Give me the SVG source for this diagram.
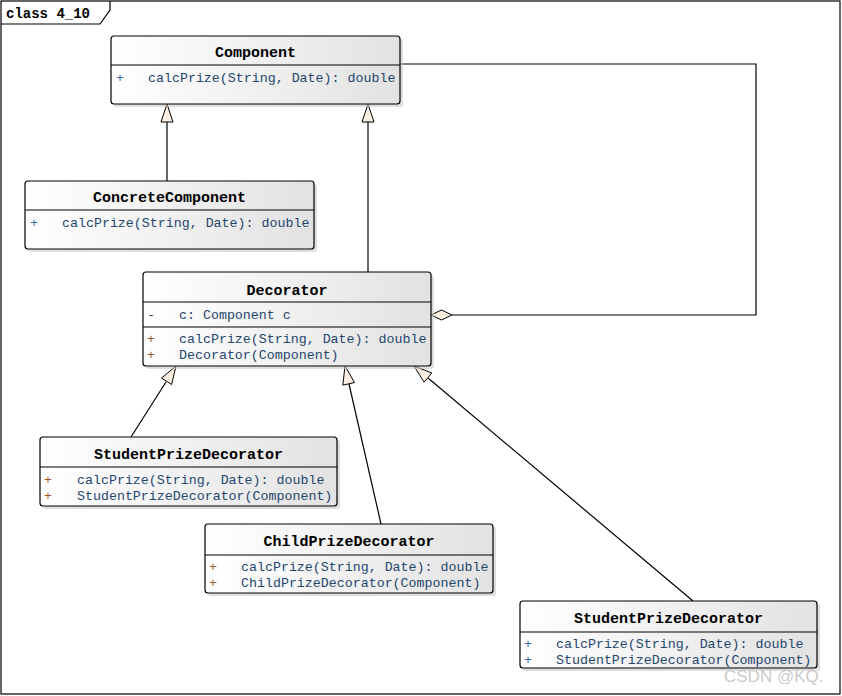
<svg xmlns="http://www.w3.org/2000/svg" width="842" height="696" viewBox="0 0 842 696">
<defs>
<linearGradient id="g" x1="0" y1="0" x2="1" y2="0">
<stop offset="0" stop-color="#ffffff"/>
<stop offset="1" stop-color="#e2e2e2"/>
</linearGradient>
<style>
.box{fill:url(#g);stroke:#000;stroke-width:1.2}
.sh{fill:#c8c8c8;opacity:0.6}
.sep{stroke:#000;stroke-width:1.2}
.title{font-family:"Liberation Mono",monospace;font-weight:bold;font-size:15px;fill:#000;text-anchor:middle}
.m{font-family:"Liberation Mono",monospace;font-size:13.3px;fill:#24466e}
.pb{fill:#3a6cb0}
.pr{fill:#9a5a2a}
.ln{stroke:#000;stroke-width:1.2;fill:none}
.tri{fill:#fcefe2;stroke:#000;stroke-width:1}
</style>
</defs>
<rect x="1" y="1" width="839" height="693" fill="#fff" stroke="#000" stroke-width="1.2"/>
<path d="M1,24 H100 L110,10 V1" fill="none" stroke="#000" stroke-width="1.2"/>
<text x="6" y="18" font-family="Liberation Mono,monospace" font-weight="bold" font-size="14" fill="#000">class 4_10</text>

<g id="connectors">
<line class="ln" x1="167" y1="181" x2="167" y2="122"/>
<polygon class="tri" points="167,104 161,122 173,122"/>
<line class="ln" x1="368" y1="272" x2="368" y2="122"/>
<polygon class="tri" points="368,104 362,122 374,122"/>
<polyline class="ln" points="400,64 756,64 756,315 452,315"/>
<polygon class="tri" points="431,315 441.5,310 452,315 441.5,320"/>
<line class="ln" x1="131" y1="437" x2="166" y2="382"/>
<polygon class="tri" points="176,366 171.6,384.5 161.5,378.1"/>
<line class="ln" x1="381" y1="524" x2="349" y2="384"/>
<polygon class="tri" points="345,366 354.5,382.5 342.8,385.2"/>
<line class="ln" x1="693" y1="601" x2="428" y2="378"/>
<polygon class="tri" points="414,366 431.8,373 424.1,382.2"/>
</g>

<g id="Component">
<rect class="sh" x="114" y="39" width="289" height="68" rx="3"/>
<rect class="box" x="111" y="36" width="289" height="68" rx="3"/>
<line class="sep" x1="111" y1="65" x2="400" y2="65"/>
<text class="title" x="255.5" y="57">Component</text>
<text class="m pb" x="116" y="82">+</text>
<text class="m" x="148" y="82">calcPrize(String, Date): double</text>
</g>

<g id="ConcreteComponent">
<rect class="sh" x="28" y="184" width="289" height="68" rx="3"/>
<rect class="box" x="25" y="181" width="289" height="68" rx="3"/>
<line class="sep" x1="25" y1="210" x2="314" y2="210"/>
<text class="title" x="169.5" y="202">ConcreteComponent</text>
<text class="m pb" x="30" y="227">+</text>
<text class="m" x="62" y="227">calcPrize(String, Date): double</text>
</g>

<g id="Decorator">
<rect class="sh" x="146" y="275" width="288" height="94" rx="3"/>
<rect class="box" x="143" y="272" width="288" height="94" rx="3"/>
<line class="sep" x1="143" y1="302" x2="431" y2="302"/>
<line class="sep" x1="143" y1="327" x2="431" y2="327"/>
<text class="title" x="287" y="295">Decorator</text>
<text class="m" x="147" y="319">-</text>
<text class="m" x="179" y="319">c: Component c</text>
<text class="m pr" x="147" y="343">+</text>
<text class="m" x="179" y="343">calcPrize(String, Date): double</text>
<text class="m pr" x="147" y="359">+</text>
<text class="m" x="179" y="359">Decorator(Component)</text>
</g>

<g id="StudentPrizeDecorator1">
<rect class="sh" x="43" y="440" width="297" height="69" rx="3"/>
<rect class="box" x="40" y="437" width="297" height="69" rx="3"/>
<line class="sep" x1="40" y1="467" x2="337" y2="467"/>
<text class="title" x="188.5" y="459">StudentPrizeDecorator</text>
<text class="m pr" x="44" y="484">+</text>
<text class="m" x="77" y="484">calcPrize(String, Date): double</text>
<text class="m pr" x="44" y="500">+</text>
<text class="m" x="77" y="500">StudentPrizeDecorator(Component)</text>
</g>

<g id="ChildPrizeDecorator">
<rect class="sh" x="208" y="527" width="288" height="69" rx="3"/>
<rect class="box" x="205" y="524" width="288" height="69" rx="3"/>
<line class="sep" x1="205" y1="555" x2="493" y2="555"/>
<text class="title" x="349" y="546">ChildPrizeDecorator</text>
<text class="m pr" x="209" y="571">+</text>
<text class="m" x="241" y="571">calcPrize(String, Date): double</text>
<text class="m pr" x="209" y="587">+</text>
<text class="m" x="241" y="587">ChildPrizeDecorator(Component)</text>
</g>

<g id="StudentPrizeDecorator2">
<rect class="sh" x="523" y="604" width="297" height="67" rx="3"/>
<rect class="box" x="520" y="601" width="297" height="67" rx="3"/>
<line class="sep" x1="520" y1="632" x2="817" y2="632"/>
<text class="title" x="668.5" y="623">StudentPrizeDecorator</text>
<text class="m pb" x="524" y="648">+</text>
<text class="m" x="556" y="648">calcPrize(String, Date): double</text>
<text class="m pb" x="524" y="664">+</text>
<text class="m" x="556" y="664">StudentPrizeDecorator(Component)</text>
</g>

<text x="724" y="682" font-family="Liberation Sans,sans-serif" font-size="17" fill="#c4c4c4" fill-opacity="0.9">CSDN @KQ.</text>
</svg>
